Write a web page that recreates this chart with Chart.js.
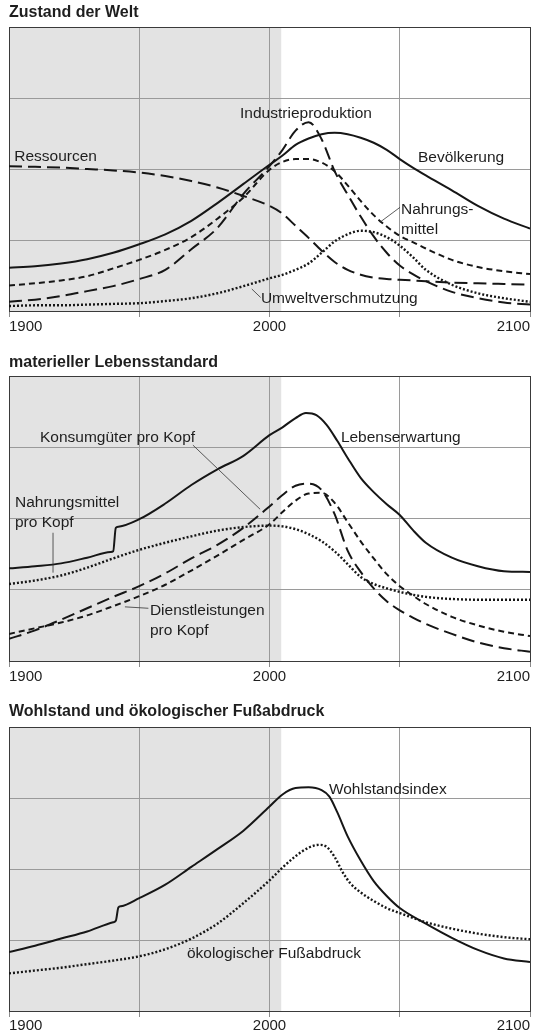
<!DOCTYPE html>
<html lang="de">
<head>
<meta charset="utf-8">
<title>Zustand der Welt</title>
<script src="https://cdn.jsdelivr.net/npm/chart.js@4.4.1/dist/chart.umd.min.js"></script>
<style>
  html, body { margin: 0; padding: 0; background: #fff; overflow: hidden; }
  canvas { position: absolute; left: 0; }
</style>
</head>
<body>
<canvas id="welt" width="538" height="340" style="top:0"></canvas>
<canvas id="leben" width="538" height="350" style="top:340px"></canvas>
<canvas id="wohl" width="538" height="345" style="top:690px"></canvas>
<script>
// x axis: grid every 50 years, labels only on these
const tickYears = [1900, 2000, 2100];
const shadeEnd = 2004.5; // grey band = past

// --- Zustand der Welt ---
const years1 = [1900, 1910, 1920, 1930, 1940, 1950, 1960, 1970, 1980, 1990, 2000, 2005, 2010, 2015, 2020, 2025, 2030, 2035, 2040, 2045, 2050, 2055, 2060, 2070, 2080, 2090, 2100];
const bevoelkerung   = [0.61, 0.63, 0.67, 0.73, 0.82, 0.94, 1.08, 1.27, 1.52, 1.79, 2.06, 2.19, 2.34, 2.43, 2.49, 2.51, 2.49, 2.44, 2.37, 2.27, 2.14, 2.02, 1.91, 1.70, 1.48, 1.30, 1.16];
const nahrungsmittel = [0.36, 0.39, 0.43, 0.49, 0.60, 0.72, 0.86, 1.04, 1.30, 1.60, 1.99, 2.10, 2.14, 2.14, 2.09, 1.97, 1.77, 1.55, 1.35, 1.19, 1.06, 0.97, 0.88, 0.72, 0.62, 0.56, 0.52];
const industrie      = [0.13, 0.16, 0.21, 0.28, 0.35, 0.45, 0.58, 0.87, 1.17, 1.65, 2.04, 2.27, 2.54, 2.66, 2.42, 1.97, 1.64, 1.33, 1.05, 0.82, 0.64, 0.52, 0.42, 0.27, 0.18, 0.12, 0.09];
const ressourcen     = [2.04, 2.03, 2.02, 2.00, 1.98, 1.95, 1.90, 1.83, 1.74, 1.62, 1.48, 1.37, 1.20, 1.03, 0.85, 0.69, 0.58, 0.51, 0.47, 0.45, 0.44, 0.43, 0.42, 0.40, 0.39, 0.38, 0.37];
const umwelt         = [0.07, 0.08, 0.08, 0.09, 0.10, 0.11, 0.14, 0.18, 0.25, 0.35, 0.46, 0.51, 0.58, 0.67, 0.82, 0.98, 1.08, 1.13, 1.11, 1.04, 0.92, 0.76, 0.58, 0.37, 0.25, 0.18, 0.13];

// --- materieller Lebensstandard ---
const years2 = years1;
const lebenJahre = [1900, 1910, 1920, 1930, 1939, 1940, 1941, 1942, 1950, 1960, 1970, 1980, 1990, 2000, 2005, 2010, 2014, 2018, 2022, 2026, 2030, 2035, 2040, 2045, 2050, 2055, 2060, 2070, 2080, 2090, 2100];
const lebenserwartung = [1.30, 1.33, 1.37, 1.45, 1.53, 1.54, 1.87, 1.885, 1.99, 2.21, 2.47, 2.69, 2.88, 3.17, 3.28, 3.41, 3.48, 3.45, 3.31, 3.09, 2.85, 2.57, 2.37, 2.20, 2.05, 1.84, 1.66, 1.45, 1.33, 1.26, 1.25];
const konsum         = [0.31, 0.43, 0.58, 0.74, 0.90, 1.05, 1.23, 1.44, 1.63, 1.87, 2.17, 2.33, 2.46, 2.49, 2.40, 2.06, 1.55, 1.25, 1.02, 0.84, 0.71, 0.61, 0.52, 0.38, 0.26, 0.18, 0.13];
const dienst         = [0.38, 0.46, 0.54, 0.64, 0.77, 0.91, 1.07, 1.27, 1.48, 1.70, 1.92, 2.09, 2.25, 2.35, 2.36, 2.22, 1.95, 1.68, 1.44, 1.22, 1.05, 0.92, 0.80, 0.62, 0.50, 0.41, 0.35];
const nahrungProKopf = [1.08, 1.13, 1.20, 1.31, 1.44, 1.56, 1.66, 1.75, 1.83, 1.88, 1.90, 1.89, 1.85, 1.78, 1.68, 1.54, 1.36, 1.18, 1.08, 1.02, 0.97, 0.93, 0.90, 0.87, 0.86, 0.86, 0.86];

// --- Wohlstand und ökologischer Fußabdruck ---
const wohlJahre = [1900, 1910, 1920, 1930, 1940, 1941, 1942, 1943, 1950, 1960, 1970, 1980, 1990, 2000, 2005, 2010, 2015, 2020, 2023, 2026, 2030, 2035, 2040, 2045, 2050, 2060, 2070, 2080, 2090, 2100];
const wohlstand = [0.83, 0.92, 1.02, 1.12, 1.25, 1.27, 1.46, 1.475, 1.59, 1.78, 2.03, 2.28, 2.54, 2.88, 3.05, 3.14, 3.15, 3.11, 3.02, 2.80, 2.46, 2.12, 1.83, 1.62, 1.45, 1.23, 1.03, 0.86, 0.74, 0.69];
const fussJahre = [1900, 1910, 1920, 1930, 1940, 1950, 1960, 1970, 1980, 1990, 2000, 2005, 2010, 2015, 2019, 2022, 2025, 2028, 2031, 2035, 2040, 2045, 2050, 2060, 2070, 2080, 2090, 2100];
const fussabdruck = [0.53, 0.57, 0.61, 0.66, 0.71, 0.77, 0.87, 1.02, 1.23, 1.52, 1.84, 2.02, 2.18, 2.30, 2.34, 2.31, 2.17, 1.96, 1.80, 1.67, 1.55, 1.45, 1.38, 1.25, 1.16, 1.09, 1.04, 1.01];

const INK = '#161616';
const LONG = [13, 6], SHORT = [6, 4], DOT = [2, 2];
const FONT = '"Liberation Sans", Arial, Helvetica, sans-serif';
Chart.defaults.font.family = FONT;

const pts = (xs, ys) => xs.map((x, i) => ({x, y: ys[i]}));
const line = (xs, ys, dash) => ({
  data: pts(xs, ys),
  borderColor: INK,
  borderWidth: dash === DOT ? 2.4 : 2,
  borderDash: dash || [],
  pointRadius: 0,
  fill: false,
  cubicInterpolationMode: 'monotone',
});

// grey band, frame, labels
const panelDecor = {
  id: 'panelDecor',
  beforeDraw(chart) {
    const {ctx, chartArea: a, scales: {x}} = chart;
    ctx.save();
    ctx.fillStyle = '#e3e3e3';
    ctx.fillRect(a.left, a.top, x.getPixelForValue(shadeEnd) - a.left, a.bottom - a.top);
    ctx.restore();
  },
  beforeDatasetsDraw(chart) {
    const {ctx, chartArea: a} = chart;
    ctx.save();
    ctx.strokeStyle = '#3a3a3a';
    ctx.lineWidth = 1;
    ctx.strokeRect(a.left + 0.5, a.top + 0.5, a.right - a.left, a.bottom - a.top);
    ctx.restore();
  },
  afterDatasetsDraw(chart, args, opts) {
    const {ctx, scales: {x, y}} = chart;
    ctx.save();
    ctx.strokeStyle = '#333';
    ctx.lineWidth = 0.8;
    (opts.leaders || []).forEach(([x1, y1, x2, y2]) => {
      ctx.beginPath();
      ctx.moveTo(x.getPixelForValue(x1), y.getPixelForValue(y1));
      ctx.lineTo(x.getPixelForValue(x2), y.getPixelForValue(y2));
      ctx.stroke();
    });
    ctx.font = '15.5px ' + FONT;
    ctx.fillStyle = '#1e1e1e';
    ctx.textBaseline = 'middle';
    ctx.textAlign = 'left';
    (opts.labels || []).forEach(l => ctx.fillText(l.text, x.getPixelForValue(l.x), y.getPixelForValue(l.y)));
    ctx.restore();
  }
};

function makePanel(id, title, datasets, decor, pad) {
  return new Chart(document.getElementById(id), {
    type: 'line',
    data: {datasets},
    plugins: [panelDecor],
    options: {
      responsive: false,
      animation: false,
      devicePixelRatio: 1,
      layout: {padding: {left: 9, right: 8, top: 0, bottom: pad.bottom}},
      scales: {
        x: {
          type: 'linear', min: 1900, max: 2100,
          border: {display: false},
          grid: {color: '#9a9a9a', lineWidth: 1, tickLength: 6, tickColor: '#8a8a8a'},
          ticks: {
            stepSize: 50, autoSkip: false, maxRotation: 0, align: 'inner',
            padding: pad.tick, color: '#1e1e1e', font: {size: 15},
            callback: v => tickYears.includes(v) ? String(v) : ''
          }
        },
        y: {
          min: 0, max: 4,
          border: {display: false},
          grid: {color: '#9a9a9a', lineWidth: 1, drawTicks: false},
          ticks: {stepSize: 1, display: false}
        }
      },
      plugins: {
        legend: {display: false},
        tooltip: {enabled: false},
        title: {
          display: true, text: title, align: 'start', color: '#1e1e1e',
          font: {size: 16, weight: 'bold'},
          padding: {top: pad.titleTop, bottom: pad.titleBottom}
        },
        panelDecor: decor
      }
    }
  });
}

makePanel('welt', 'Zustand der Welt', [
  line(years1, umwelt, DOT),
  line(years1, ressourcen, LONG),
  line(years1, industrie, LONG),
  line(years1, nahrungsmittel, SHORT),
  line(years1, bevoelkerung),
], {
  labels: [
    {text: 'Ressourcen', x: 1902, y: 2.17},
    {text: 'Industrieproduktion', x: 1988.7, y: 2.78},
    {text: 'Bevölkerung', x: 2057, y: 2.16},
    {text: 'Nahrungs-', x: 2050.5, y: 1.43},
    {text: 'mittel', x: 2050.5, y: 1.14},
    {text: 'Umweltverschmutzung', x: 1996.7, y: 0.17},
  ],
  leaders: [
    [2050.1, 1.46, 2042.4, 1.25],
    [1993.2, 0.31, 1996.6, 0.19],
  ]
}, {titleTop: 3.4, titleBottom: 4.4, tick: 1, bottom: 3});

makePanel('leben', 'materieller Lebensstandard', [
  line(years2, nahrungProKopf, DOT),
  line(years2, dienst, SHORT),
  line(years2, konsum, LONG),
  line(lebenJahre, lebenserwartung),
], {
  labels: [
    {text: 'Konsumgüter pro Kopf', x: 1911.9, y: 3.13},
    {text: 'Nahrungsmittel', x: 1902.3, y: 2.22},
    {text: 'pro Kopf', x: 1902.3, y: 1.94},
    {text: 'Dienstleistungen', x: 1954.1, y: 0.70},
    {text: 'pro Kopf', x: 1954.1, y: 0.42},
    {text: 'Lebenserwartung', x: 2027.4, y: 3.13},
  ],
  leaders: [
    [1970.6, 3.03, 1996.4, 2.13],
    [1916.9, 1.80, 1916.9, 1.24],
    [1944.5, 0.76, 1953.5, 0.74],
  ]
}, {titleTop: 13.4, titleBottom: 3.4, tick: 1, bottom: 3});

makePanel('wohl', 'Wohlstand und ökologischer Fußabdruck', [
  line(fussJahre, fussabdruck, DOT),
  line(wohlJahre, wohlstand),
], {
  labels: [
    {text: 'Wohlstandsindex', x: 2022.8, y: 3.11},
    {text: 'ökologischer Fußabdruck', x: 1968.3, y: 0.80},
  ]
}, {titleTop: 12.4, titleBottom: 5.4, tick: 0, bottom: 0});
</script>
</body>
</html>
